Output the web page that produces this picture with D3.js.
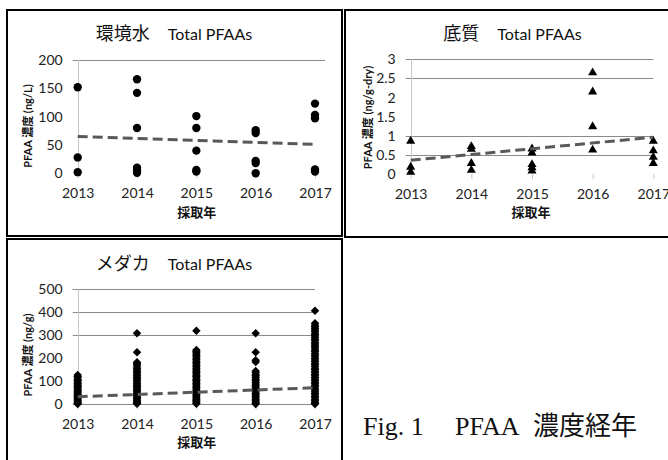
<!DOCTYPE html>
<html><head><meta charset="utf-8">
<script src="https://cdn.jsdelivr.net/npm/d3@7"></script>
<style>
body{margin:0;background:#fff}
svg{display:block}
</style></head><body>
<svg id="c" width="668" height="460"></svg>
<script>
const years = ["2013","2014","2015","2016","2017"];

const waterByYear = [
  [152, 28, 2],
  [166, 142, 80, 10, 5, 1],
  [101, 80, 40, 6, 3],
  [76, 71, 22, 18, 0],
  [123, 103, 97, 7, 3]
];
const waterTicks = [0, 50, 100, 150, 200];
const waterGrid = [200];
const waterTrend = [65, 51];

const sedimentByYear = [
  [0.86, 0.18, 0.05],
  [0.72, 0.65, 0.28, 0.10],
  [0.66, 0.55, 0.25, 0.17, 0.08],
  [2.65, 2.15, 1.24, 0.63],
  [0.86, 0.61, 0.44, 0.28]
];
const sedimentTicks = [0, 0.5, 1, 1.5, 2, 2.5, 3];
const sedimentGrid = [3, 2.5, 1, 0.5];
const sedimentTrend = [0.36, 0.96];

const medakaByYear = [
  [127, 121, 116, 108, 103, 97, 91, 88, 82, 77, 73, 66, 62, 57, 52, 46, 43, 37, 33, 28, 24, 19, 14, 10, 6, 3, 1],
  [309, 226, 183, 176, 171, 162, 155, 149, 141, 137, 130, 124, 118, 111, 106, 100, 93, 88, 82, 76, 71, 64, 58, 53, 47, 41, 36, 30, 25, 19, 14, 9, 5, 2],
  [320, 236, 231, 226, 219, 213, 207, 199, 194, 187, 181, 176, 169, 163, 157, 150, 144, 139, 133, 126, 121, 115, 108, 103, 97, 90, 85, 79, 73, 67, 61, 55, 50, 44, 38, 32, 27, 21, 16, 11, 6, 2],
  [309, 226, 191, 184, 145, 138, 130, 124, 117, 109, 103, 96, 88, 82, 75, 69, 61, 55, 48, 41, 35, 28, 21, 15, 9, 4, 1],
  [407, 352, 344, 337, 331, 323, 318, 309, 302, 297, 289, 283, 276, 268, 262, 255, 249, 241, 234, 228, 220, 214, 207, 199, 193, 186, 178, 172, 165, 157, 151, 144, 137, 130, 124, 116, 110, 103, 96, 89, 82, 76, 68, 62, 55, 48, 41, 34, 28, 21, 15, 9, 4, 1]
];
const medakaTicks = [0, 100, 200, 300, 400, 500];
const medakaGrid = [500, 400, 300, 0];
const medakaTrend = [33, 72];

const svg = d3.select("#c");
const SANS = "Lato, 'Noto Sans CJK JP', sans-serif";
const CJK = "'Noto Sans CJK JP', sans-serif";

svg.append("rect").attr("x", 7).attr("y", 10).attr("width", 335).attr("height", 226)
  .attr("fill", "none").attr("stroke", "#000").attr("stroke-width", 2);
svg.append("rect").attr("x", 345).attr("y", 10).attr("width", 340).attr("height", 227)
  .attr("fill", "none").attr("stroke", "#000").attr("stroke-width", 2);
svg.append("rect").attr("x", 7).attr("y", 239).attr("width", 335).attr("height", 240)
  .attr("fill", "none").attr("stroke", "#000").attr("stroke-width", 2);

function drawPanel(o) {
  const g = svg.append("g");
  const x = d3.scalePoint().domain(years).range(o.xr);
  const y = d3.scaleLinear().domain([0, o.ymax]).range(o.yr);

  g.selectAll("line.grid").data(o.grid).join("line").attr("class", "grid")
    .attr("x1", o.xr[0] - 5).attr("x2", o.xr[1] + o.ext)
    .attr("y1", d => Math.round(y(d)) + 0.5).attr("y2", d => Math.round(y(d)) + 0.5)
    .attr("stroke", "#8a8a8a").attr("stroke-width", 1);

  g.append("line").attr("x1", Math.round(x(years[0])) + 0.5).attr("x2", Math.round(x(years[0])) + 0.5)
    .attr("y1", y(o.ymax)).attr("y2", y(0)).attr("stroke", "#c8c8c8");

  g.append("g").attr("transform", `translate(0,${y(0)})`)
    .call(d3.axisBottom(x).tickSize(5).tickPadding(10))
    .call(s => s.select(".domain").remove())
    .call(s => s.selectAll("line").attr("stroke", "#c8c8c8"))
    .attr("font-family", SANS).attr("font-size", 14)
    .call(s => s.selectAll("text").attr("fill", "#222"));

  g.append("g").attr("transform", `translate(${x(years[0])},0)`)
    .call(d3.axisLeft(y).tickValues(o.ticks).tickSize(0).tickPadding(15).tickFormat(d => String(d)))
    .call(s => s.select(".domain").remove())
    .attr("font-family", SANS).attr("font-size", 14)
    .call(s => s.selectAll("text").attr("fill", "#222"));

  const pts = [];
  o.data.forEach((vals, i) => vals.forEach(v => pts.push({ year: years[i], v })));
  const sym = d3.symbol().type(o.symbol).size(o.size);
  g.selectAll("path.pt").data(pts).join("path").attr("class", "pt")
    .attr("d", sym)
    .attr("transform", d => `translate(${x(d.year)},${y(d.v)})`)
    .attr("fill", "#000");

  g.append("line")
    .attr("x1", x(years[0])).attr("y1", y(o.trend[0]))
    .attr("x2", x(years[years.length - 1])).attr("y2", y(o.trend[1]))
    .attr("stroke", "#595959").attr("stroke-width", 3).attr("stroke-dasharray", "10,5");

  const t = g.append("text").attr("x", o.tx).attr("y", o.ty).attr("text-anchor", "middle").attr("fill", "#111");
  t.append("tspan").attr("font-family", CJK).attr("font-size", 18).text(o.titleJ + "\u3000");
  t.append("tspan").attr("font-family", SANS).attr("font-size", 16).text("Total PFAAs");

  g.append("text").attr("transform", `translate(${o.ylx},${o.yly}) rotate(-90)`)
    .attr("text-anchor", "middle").attr("dy", "0.35em")
    .attr("font-family", SANS).attr("font-weight", "bold").attr("font-size", 11).attr("fill", "#111")
    .text(o.ylabel);

  g.append("text").attr("x", o.xlx).attr("y", o.xly).attr("text-anchor", "middle")
    .attr("font-family", CJK).attr("font-weight", "bold").attr("font-size", 13).attr("fill", "#111")
    .text("採取年");
}

drawPanel({
  xr: [77.7, 315], yr: [173.3, 60], ymax: 200, ext: 10,
  grid: waterGrid, ticks: waterTicks, data: waterByYear, trend: waterTrend,
  symbol: d3.symbolCircle, size: 55,
  titleJ: "環境水", tx: 174, ty: 40,
  ylabel: "PFAA 濃度 (ng/L)", ylx: 28.5, yly: 126,
  xlx: 196.7, xly: 216.5
});
drawPanel({
  xr: [410.7, 653.3], yr: [174, 59.3], ymax: 3, ext: 0,
  grid: sedimentGrid, ticks: sedimentTicks, data: sedimentByYear, trend: sedimentTrend,
  symbol: d3.symbolTriangle, size: 36,
  titleJ: "底質", tx: 512.5, ty: 40,
  ylabel: "PFAA 濃度 (ng/g-dry)", ylx: 368.3, yly: 117.5,
  xlx: 531, xly: 216.5
});
drawPanel({
  xr: [77.7, 315], yr: [404.3, 289.3], ymax: 500, ext: 0,
  grid: medakaGrid, ticks: medakaTicks, data: medakaByYear, trend: medakaTrend,
  symbol: d3.symbolDiamond2, size: 46,
  titleJ: "メダカ", tx: 174, ty: 270,
  ylabel: "PFAA 濃度 (ng/g)", ylx: 28.5, yly: 355,
  xlx: 196.7, xly: 446.5
});

const cap = svg.append("text").attr("y", 435).attr("fill", "#111").attr("font-size", 26);
cap.append("tspan").attr("x", 363).attr("font-family", "'Liberation Serif', serif").text("Fig. 1");
cap.append("tspan").attr("x", 455).attr("font-family", "'Liberation Serif', serif").text("PFAA");
cap.append("tspan").attr("x", 533).attr("font-family", CJK).attr("font-size", 26).text("濃度経年");
</script>
</body></html>
